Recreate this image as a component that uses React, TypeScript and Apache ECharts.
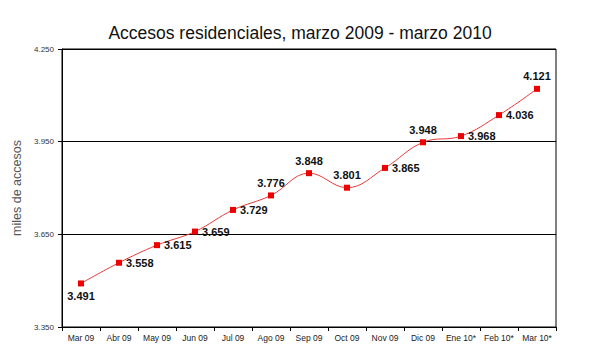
import React, { useEffect, useRef } from "react";
import * as echarts from "echarts";

const categories = ["Mar 09", "Abr 09", "May 09", "Jun 09", "Jul 09", "Ago 09", "Sep 09", "Oct 09", "Nov 09", "Dic 09", "Ene 10*", "Feb 10*", "Mar 10*"];
const values = [3491, 3558, 3615, 3659, 3729, 3776, 3848, 3801, 3865, 3948, 3968, 4036, 4121];
const labelPositions = ["bottom", "right", "right", "right", "right", "top", "top", "top", "right", "top", "right", "right", "top"];

const fmt = (v: number) => (v / 1000).toFixed(3);

export default function App() {
  const ref = useRef<HTMLDivElement>(null);
  useEffect(() => {
    const chart = echarts.init(ref.current!, null, { renderer: "svg" });
    chart.setOption({
      animation: false,
      backgroundColor: "#ffffff",
      title: {
        text: "Accesos residenciales, marzo 2009 - marzo 2010",
        left: "center",
        top: 19,
        textStyle: { fontFamily: "Liberation Sans, Arial", fontSize: 17.5, fontWeight: "normal", color: "#111" },
      },
      grid: { left: 62, right: 44, top: 49, bottom: 33, show: true, borderColor: "#000", borderWidth: 1 },
      xAxis: {
        type: "category",
        data: categories,
        boundaryGap: true,
        axisLine: { lineStyle: { color: "#000", width: 1 } },
        axisTick: { show: true, length: 4, lineStyle: { color: "#000" } },
        axisLabel: { fontFamily: "Liberation Sans, Arial", fontSize: 8.5, color: "#222", margin: 6, interval: 0 },
      },
      yAxis: {
        type: "value",
        min: 3350,
        max: 4250,
        interval: 300,
        name: "miles de accesos",
        nameLocation: "middle",
        nameGap: 38,
        nameTextStyle: { fontFamily: "Liberation Sans, Arial", fontSize: 12.5, color: "#555" },
        axisLine: { show: true, lineStyle: { color: "#000", width: 1 } },
        axisTick: { show: true, length: 4, lineStyle: { color: "#000" } },
        axisLabel: { fontFamily: "Liberation Sans, Arial", fontSize: 8, color: "#333", formatter: (v: number) => fmt(v) },
        splitLine: { show: true, lineStyle: { color: "#000", width: 1 } },
      },
      series: [
        {
          type: "line",
          smooth: 0.4,
          data: values.map((v, i) => ({
            value: v,
            label: { position: labelPositions[i] },
          })),
          symbol: "rect",
          symbolSize: 6,
          lineStyle: { color: "#e8393a", width: 1 },
          itemStyle: { color: "#ee0000" },
          label: {
            show: true,
            fontFamily: "Liberation Sans, Arial",
            fontSize: 11,
            fontWeight: "bold",
            color: "#111",
            distance: 4,
            formatter: (p: any) => fmt(p.value),
          },
        },
      ],
    });
    return () => chart.dispose();
  }, []);
  return <div ref={ref} style={{ position: "fixed", left: 0, top: 0, width: 600, height: 360 }} />;
}
